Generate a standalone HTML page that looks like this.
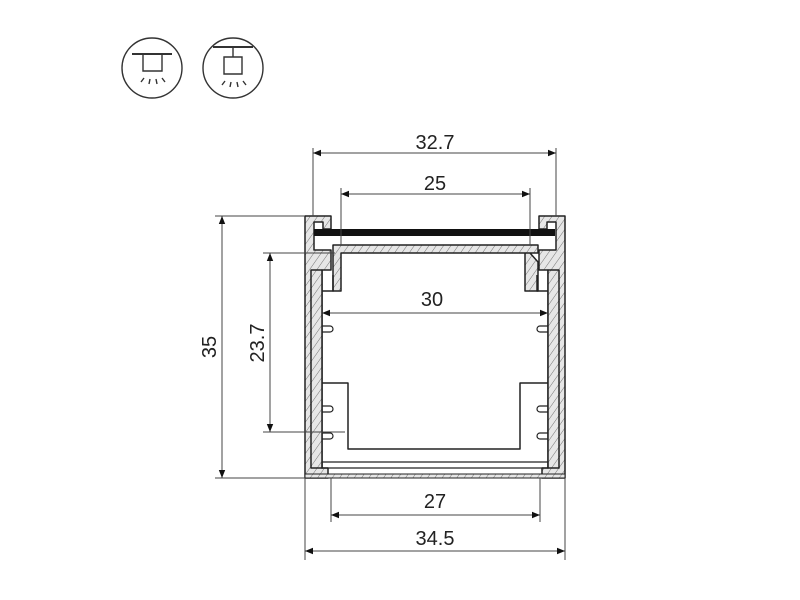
<!DOCTYPE html>
<html><head><style>body{margin:0;background:#fff}svg{display:block}text{font-family:"Liberation Sans",sans-serif;font-size:20px;fill:#222}</style></head>
<body>
<svg width="800" height="600" viewBox="0 0 800 600" xmlns="http://www.w3.org/2000/svg">
<defs>
<pattern id="h" width="6" height="6" patternUnits="userSpaceOnUse" patternTransform="rotate(35)">
<rect width="6" height="6" fill="#e6e6e6"/><line x1="0" y1="0" x2="0" y2="6" stroke="#555" stroke-width="0.8"/></pattern>
<marker id="a" viewBox="0 0 10 10" refX="10" refY="5" markerWidth="11" markerHeight="8" orient="auto-start-reverse" markerUnits="userSpaceOnUse"><path d="M0,1 L10,5 L0,9z" fill="#111"/></marker>
</defs>
<g fill="none" stroke="#333" stroke-width="1.4">
<circle cx="152" cy="68" r="30"/><circle cx="233" cy="68" r="30"/>
<line x1="132" y1="54" x2="172" y2="54" stroke-width="2"/>
<path d="M143,54 V71 H162 V54"/>
<path d="M144,78 l-3,4 M150,79 l-1,5 M156,79 l1,5 M162,78 l3,4"/>
<line x1="213" y1="47" x2="253" y2="47" stroke-width="2"/>
<path d="M233,47 V57 M224,57 H242 V74 H224 Z"/>
<path d="M225,81 l-3,4 M231,82 l-1,5 M237,82 l1,5 M243,81 l3,4"/>
</g>
<g stroke="#222" stroke-width="1.5" stroke-linejoin="round">
<path fill="url(#h)" d="M305,216 H331 V229 H323 V222 H314 V250 H331 V270 H322 V468 H328 V478 H305 Z"/>
<path fill="url(#h)" d="M565,216 H539 V229 H547 V222 H556 V250 H539 V270 H548 V468 H542 V478 H565 Z"/>
<path fill="url(#h)" d="M305,478 H565 V474 H305Z" stroke-width="1"/>
<rect x="314" y="229" width="241" height="7" fill="#111" stroke="none"/>
<path fill="url(#h)" d="M333,245 H538 V253 H525 V291 H538 V262 L530 253 H341 V291 H333 Z" />
<path fill="url(#h)" d="M311,270 H322 V468 H311 Z"/>
<path fill="url(#h)" d="M548,270 H559 V468 H548 Z"/>
<path fill="none" d="M322,291 H333 V275 M548,291 H537 V275"/>
<path fill="none" d="M322,383 H348 V449 H520 V383 H548"/>
<path fill="none" stroke-width="1.2" d="M322,326 H330 a3,3 0 0 1 0,6 H322 M548,326 H540 a3,3 0 0 0 0,6 H548 M322,406 H330 a3,3 0 0 1 0,6 H322 M322,433 H330 a3,3 0 0 1 0,6 H322 M548,406 H540 a3,3 0 0 0 0,6 H548 M548,433 H540 a3,3 0 0 0 0,6 H548"/>
<path fill="none" d="M322,462 H548 V468 H322 Z" stroke-width="1.2"/>
</g>
<g stroke="#444" stroke-width="1" fill="none">
<path d="M313,148 V216 M556,148 V216 M341,188 V245 M530,188 V245 M331,478 V522 M540,478 V522 M305,478 V560 M565,478 V560 M215,216 H305 M215,478 H305 M263,253 H335 M263,432 H345"/>
<line x1="313" y1="153" x2="556" y2="153" marker-start="url(#a)" marker-end="url(#a)"/>
<line x1="341" y1="194" x2="530" y2="194" marker-start="url(#a)" marker-end="url(#a)"/>
<line x1="322" y1="313" x2="548" y2="313" marker-start="url(#a)" marker-end="url(#a)"/>
<line x1="331" y1="515" x2="540" y2="515" marker-start="url(#a)" marker-end="url(#a)"/>
<line x1="305" y1="551" x2="565" y2="551" marker-start="url(#a)" marker-end="url(#a)"/>
<line x1="222" y1="216" x2="222" y2="478" marker-start="url(#a)" marker-end="url(#a)"/>
<line x1="270" y1="253" x2="270" y2="432" marker-start="url(#a)" marker-end="url(#a)"/>
</g>
<g text-anchor="middle">
<text x="435" y="149">32.7</text>
<text x="435" y="190">25</text>
<text x="432" y="306">30</text>
<text x="435" y="508">27</text>
<text x="435" y="545">34.5</text>
<text transform="translate(216,347) rotate(-90)">35</text>
<text transform="translate(264,343) rotate(-90)">23.7</text>
</g>
</svg>
</body></html>
